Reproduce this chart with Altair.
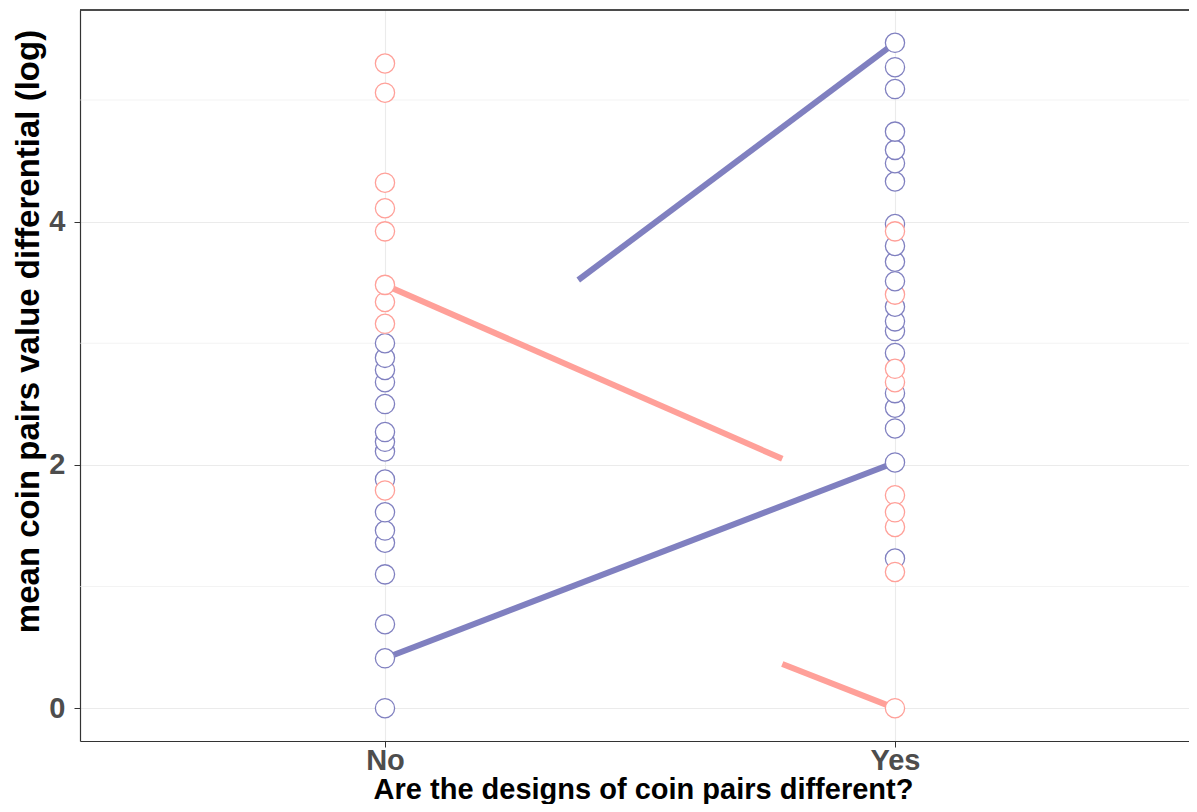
import altair as alt
import pandas as pd

# ---- data ----
no_blue = [3.00, 2.88, 2.78, 2.68, 2.50, 2.27, 2.19, 2.11, 1.88, 1.61, 1.46, 1.36, 1.10, 0.69, 0.41, 0.00]
no_salmon = [5.30, 5.06, 4.32, 4.11, 3.92, 3.34, 3.48, 3.16, 1.79]
yes_blue = [5.47, 5.27, 5.09, 4.74, 4.59, 4.48, 4.33, 3.98, 3.80, 3.67, 3.51, 3.30, 3.18, 3.10, 2.92,
            2.59, 2.47, 2.30, 2.02, 1.23]
yes_salmon = [3.40, 3.92, 2.68, 2.79, 1.75, 1.49, 1.61, 1.12, 0.00]
# circles that sit on top of their neighbours in the picture
drawn_last = [(1, 1.79), (2, 3.92), (2, 2.79), (2, 1.61), (2, 1.12)]

# line segments (x positions: 1 = No, 2 = Yes)
seg_group = ["blue", "salmon", "salmon", "blue"]
seg_x = [1.0, 1.0, 1.779, 1.379]
seg_y = [0.41, 3.48, 0.363, 3.52]
seg_x2 = [2.0, 1.779, 2.0, 2.0]
seg_y2 = [2.02, 2.05, 0.0, 5.47]

x_ticks = [1, 2]
x_tick_labels = ["No", "Yes"]
y_ticks = [0, 2, 4]
y_minor = [1, 3, 5]

BLUE = "#8080c0"
SALMON = "#ffa099"
W, H = 1109, 731

rows = []
for xv, vals, g in [(1, no_salmon, "salmon"), (2, yes_salmon, "salmon"),
                    (1, no_blue, "blue"), (2, yes_blue, "blue")]:
    for v in vals:
        o = v + (10 if (xv, v) in drawn_last and g == "salmon" else 0)
        rows.append({"x": xv, "y": v, "g": g, "o": o})
points = pd.DataFrame(rows)

segs = pd.DataFrame({"g": seg_group, "x": seg_x, "y": seg_y, "x2": seg_x2, "y2": seg_y2})
minor = pd.DataFrame({"y": y_minor})

xscale = alt.Scale(domain=[0.402, 2.5765], nice=False, zero=False)
yscale = alt.Scale(domain=[-0.27, 5.74], nice=False, zero=False)
color = alt.Scale(domain=["blue", "salmon"], range=[BLUE, SALMON])

label_expr = "datum.value == 1 ? '" + x_tick_labels[0] + "' : '" + x_tick_labels[1] + "'"

xaxis = alt.Axis(values=x_ticks, labelExpr=label_expr, title="Are the designs of coin pairs different?",
                 grid=True, gridColor="#ebebeb", gridWidth=1.1, domainColor="#333333", domainWidth=1.2,
                 tickColor="#333333", tickSize=6, labelPadding=-1, labelFont="Liberation Sans",
                 labelFontSize=29, labelFontWeight="bold", labelColor="#4d4d4d",
                 titleFont="Liberation Sans", titleFontSize=29, titleFontWeight="bold", titleColor="#000000",
                 titleBaseline="alphabetic", titleY=57, titleX=563)
yaxis = alt.Axis(values=y_ticks, title="mean coin pairs value differential (log)", grid=True,
                 gridColor="#ebebeb", gridWidth=1.1, domainColor="#333333", domainWidth=1.2,
                 tickColor="#333333", tickSize=6, labelPadding=9, labelFont="Liberation Sans",
                 labelFontSize=29, labelFontWeight="bold", labelColor="#4d4d4d",
                 titleFont="Liberation Sans", titleFontSize=33, titleFontWeight="bold", titleColor="#000000",
                 titleBaseline="bottom", titleX=-35, titleY=321)

minor_layer = alt.Chart(minor).mark_rule(color="#ebebeb", strokeWidth=0.6).encode(
    y=alt.Y("y:Q", scale=yscale, axis=yaxis)
)

top_border = alt.Chart(minor).mark_rule(color="#333333", strokeWidth=1.2).encode(
    x=alt.value(0), x2=alt.value(W), y=alt.value(0)
)

lines = alt.Chart(segs).mark_rule(strokeWidth=6, strokeCap="butt").encode(
    x=alt.X("x:Q", scale=xscale, axis=xaxis),
    y=alt.Y("y:Q", scale=yscale, axis=yaxis),
    x2="x2:Q",
    y2="y2:Q",
    color=alt.Color("g:N", scale=color, legend=None),
)

pts = alt.Chart(points).mark_point(shape="circle", filled=False, fill="white", fillOpacity=1,
                                   size=370, strokeWidth=1.3, opacity=1).encode(
    x=alt.X("x:Q", scale=xscale, axis=xaxis),
    y=alt.Y("y:Q", scale=yscale, axis=yaxis),
    stroke=alt.Stroke("g:N", scale=color, legend=None),
    order=alt.Order("o:Q"),
)

chart = alt.layer(minor_layer, top_border, lines, pts).properties(
    width=W, height=H,
    autosize=alt.AutoSizeParams(type="none"),
    padding={"left": 72, "top": 2, "right": 0, "bottom": 63},
).configure_view(stroke=None)

chart.save("out.html", embed_options={"renderer": "svg", "actions": False})
